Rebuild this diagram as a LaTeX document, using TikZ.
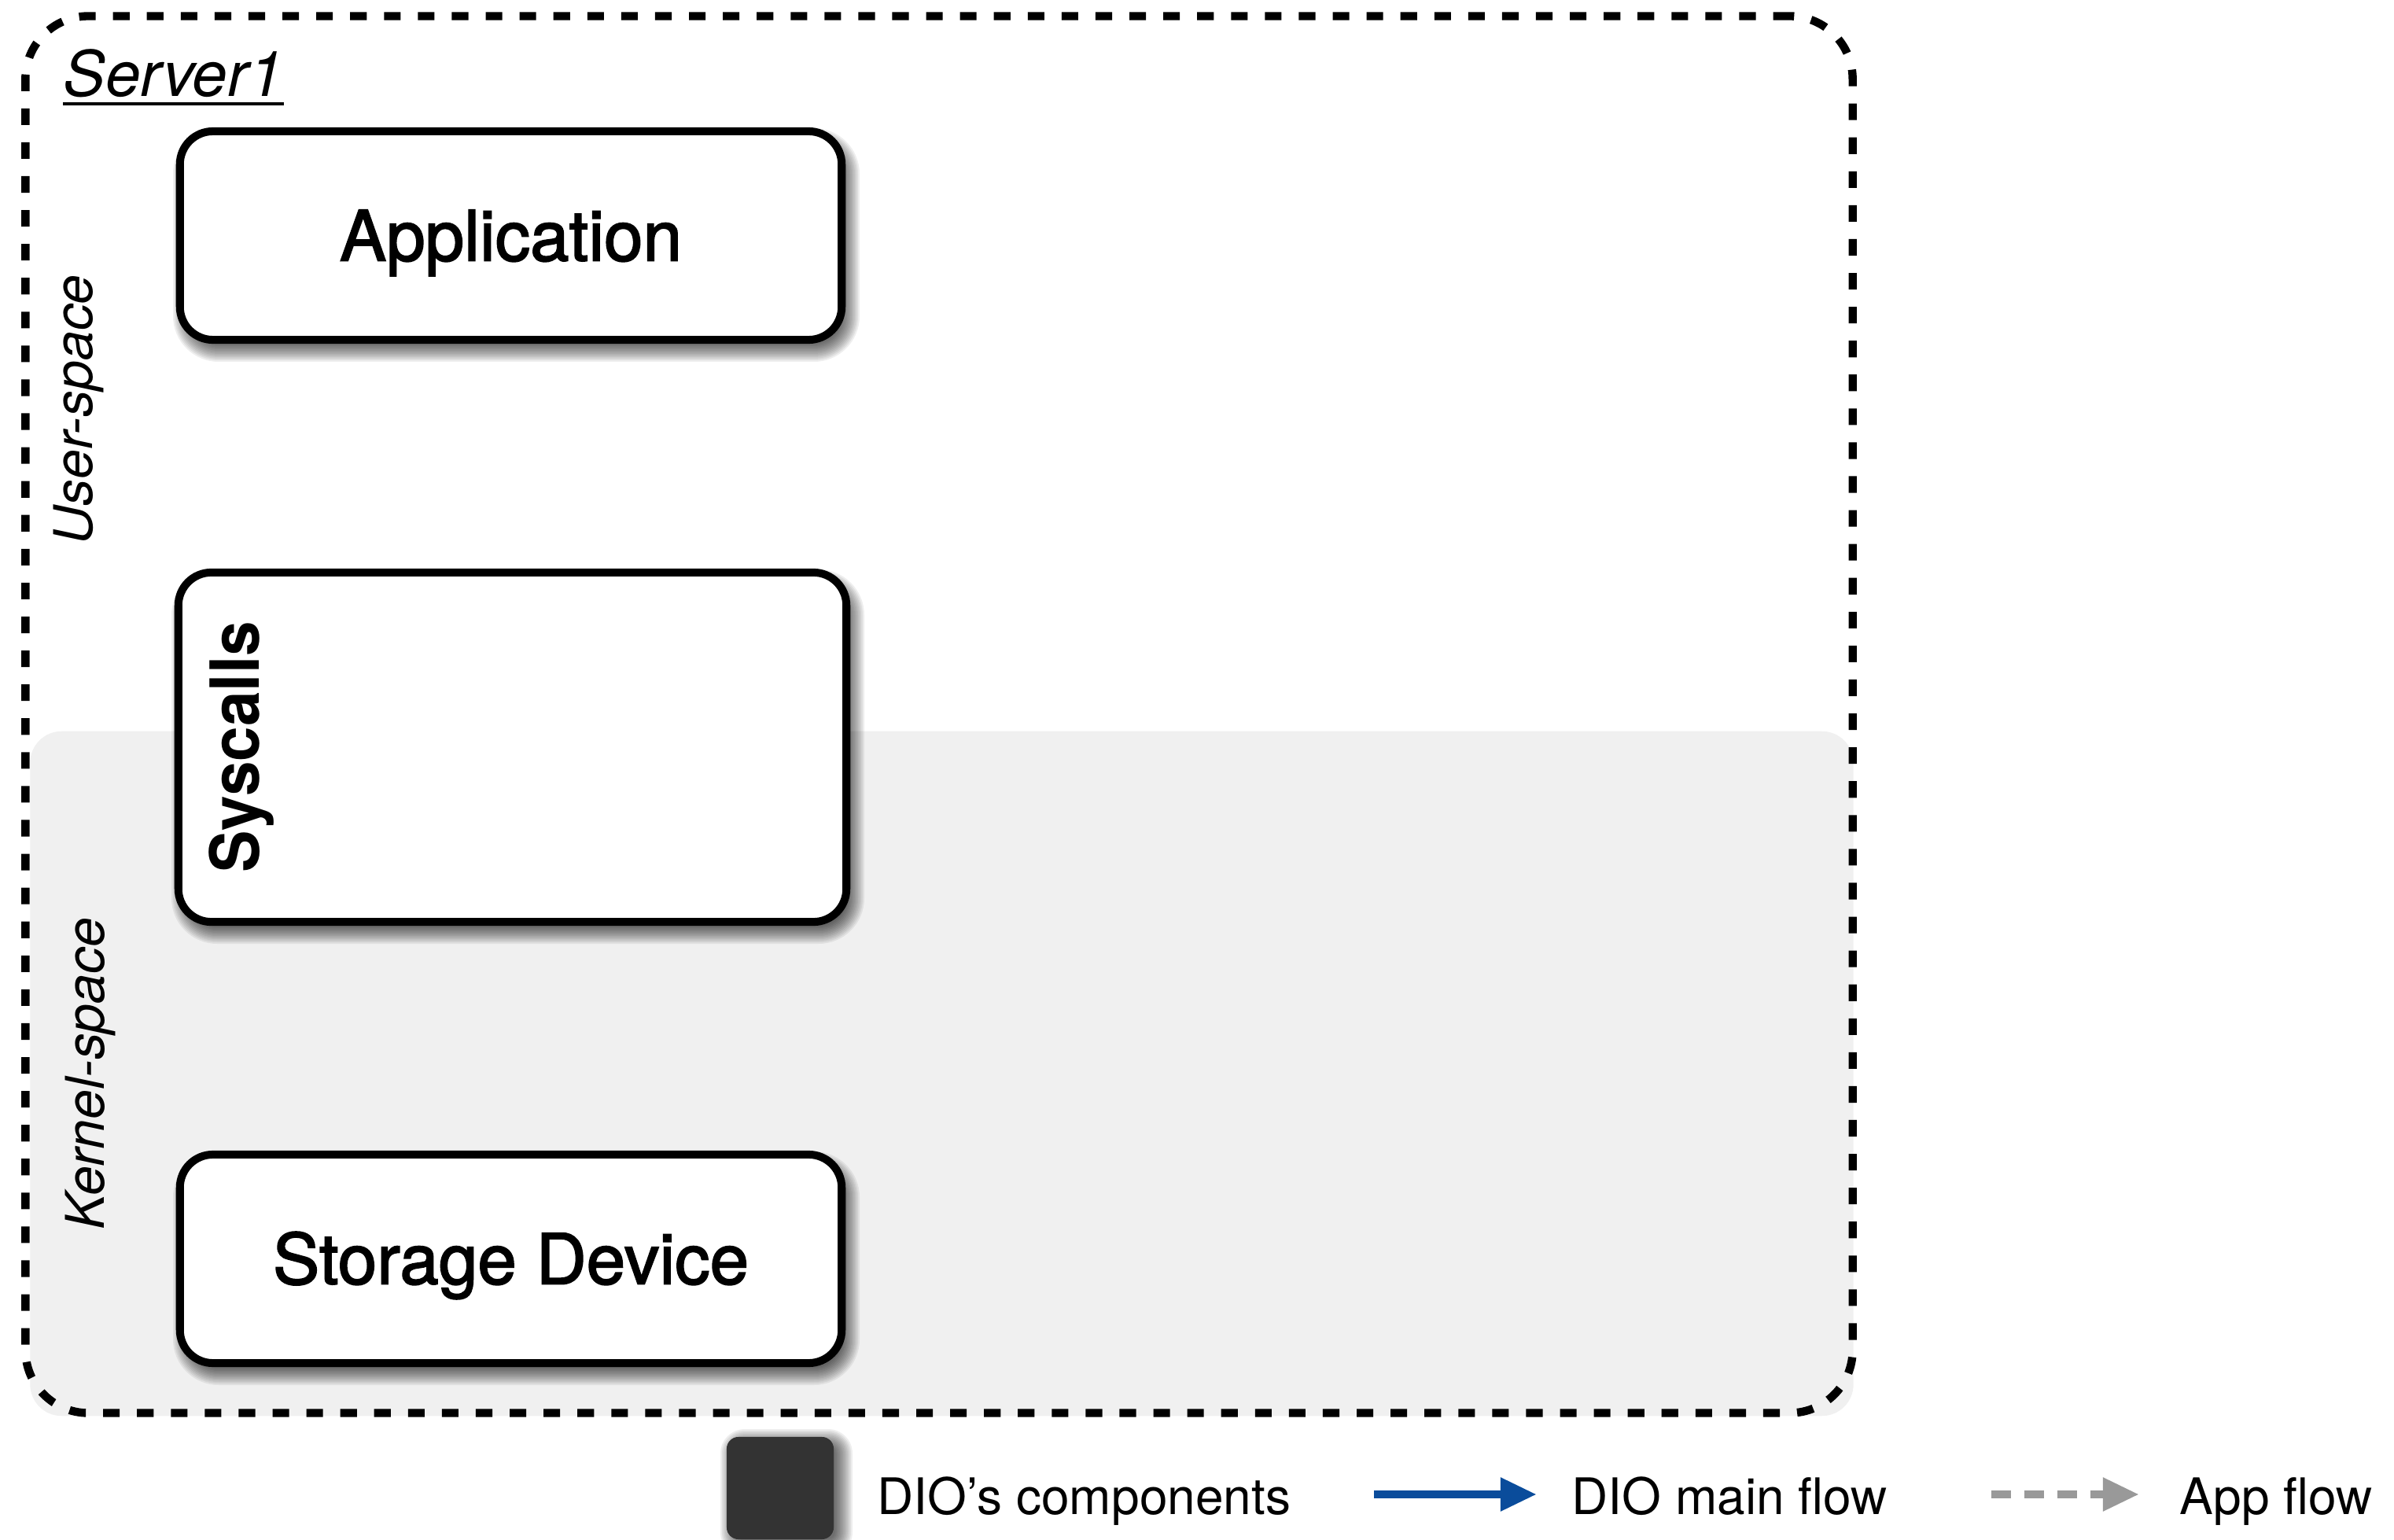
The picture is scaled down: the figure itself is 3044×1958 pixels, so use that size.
\documentclass[tikz,border=0pt]{standalone}
\usepackage{fontspec}
\setmainfont{TeX Gyre Heros}
\newfontfamily\medfont[FakeBold=2]{TeX Gyre Heros}
\newfontfamily\syscfont[FakeStretch=0.93]{TeX Gyre Heros}
\usetikzlibrary{arrows.meta}
\definecolor{kernelgray}{HTML}{F0F0F0}
\definecolor{legdark}{HTML}{333333}
\definecolor{dioblue}{RGB}{10,76,155}
\definecolor{appgray}{HTML}{999999}
% soft shadow: x1,y1,x2,y2 (px), radius (px), dx, dy (px)
\newcommand\softshadow[7]{%
  \foreach \e in {-6,-4,...,16} {
    \pgfmathsetmacro\rr{max(#5+\e,1)/100}
    \fill[black,opacity=0.065,rounded corners=\rr cm]
      ({#1+#6-\e},{#2+#7-\e}) rectangle ({#3+#6+\e},{#4+#7+\e});
  }}
\tikzset{
  compbox/.style={draw=black, line width=2.85pt, fill=white, rounded corners=0.42cm,
    minimum width=8.41cm, minimum height=2.65cm, inner sep=0pt,
    text height=18.2pt, text depth=0pt,
    font=\medfont\fontsize{25.3}{30}\selectfont},
  serverbox/.style={draw=black, line width=2.95pt, dash pattern=on 6pt off 6.25pt,
    rounded corners=0.8cm, minimum width=23.22cm, minimum height=17.75cm, inner sep=0pt},
  kernelarea/.style={fill=kernelgray, rounded corners=0.4cm, minimum width=23.17cm,
    minimum height=8.7cm, inner sep=0pt},
  sidelabel/.style={rotate=90, anchor=base, inner sep=0pt, font=\itshape\fontsize{19.3}{23}\selectfont},
  legtext/.style={anchor=base west, inner sep=0pt, font=\fontsize{18.2}{22}\selectfont},
  legarrow/.style={line width=3.1pt, -{Triangle[length=13.1pt,width=11.4pt]}}
}
\begin{document}
\begin{tikzpicture}[x=0.01cm, y=-0.01cm]
\useasboundingbox (0,0) rectangle (3044,1958);
% kernel-space area
\node[kernelarea] (kernel) at (1197.5,1365) {};
% server container
\node[serverbox] (server) at (1194,908.5) {};
\node[anchor=base west, inner sep=0pt, font=\itshape\fontsize{22.8}{27}\selectfont] (srv) at (80,123) {Server1};
\draw[line width=1.1pt] ([yshift=-2.6pt]srv.base west) -- ([yshift=-2.6pt]srv.base east);
% side labels
\node[sidelabel] (us) at (117,521) {User-space};
\node[sidelabel] (ks) at (132,1365) {Kernel-space};
% components
\softshadow{229}{167}{1070}{432}{42}{7}{12}
\node[compbox] (app) at (649.5,299.5) {Application};
\softshadow{227}{728}{1076}{1172}{42}{7}{12}
\node[compbox, minimum width=8.49cm, minimum height=4.44cm] (sys) at (651.5,950) {};
\node[rotate=90, anchor=base, inner sep=0pt, font=\syscfont\bfseries\fontsize{24.5}{29}\selectfont] (syst) at (329,950) {Syscalls};
\softshadow{229}{1468}{1070}{1733}{42}{7}{12}
\node[compbox] (dev) at (649.5,1600.5) {Storage Device};
% legend
\softshadow{924}{1827}{1060}{1957}{15}{8}{6}
\node[fill=legdark, rounded corners=0.15cm, minimum width=1.36cm, minimum height=1.30cm, inner sep=0pt] (legbox) at (992,1892) {};
\node[legtext] (legc) at (1115,1925) {DIO’s components};
\coordinate (b1) at (1747,1900);
\coordinate (b2) at (1954,1900);
\draw[legarrow, dioblue] (b1) -- (b2);
\node[legtext] (legm) at (1998,1925) {DIO main flow};
\coordinate (g1) at (2532,1900);
\coordinate (g2) at (2720,1900);
\draw[legarrow, appgray, dash pattern=on 7.1pt off 4.8pt] (g1) -- (g2);
\node[legtext] (lega) at (2771,1925) {App flow};
\end{tikzpicture}
\end{document}
